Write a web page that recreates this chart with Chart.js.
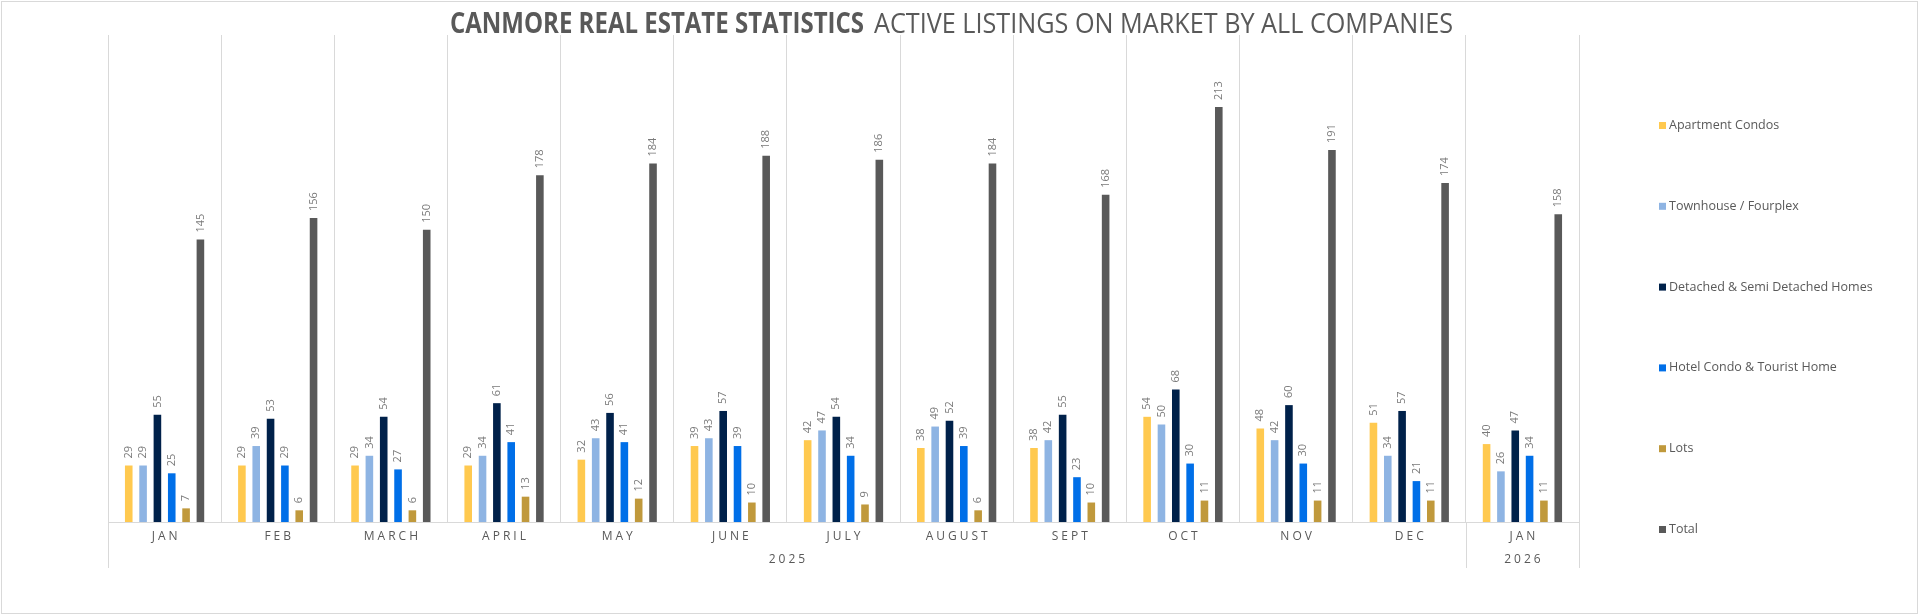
<!DOCTYPE html>
<html>
<head>
<meta charset="utf-8">
<title>Canmore Real Estate Statistics</title>
<script src="https://cdn.jsdelivr.net/npm/chart.js@4.4.1/dist/chart.umd.min.js"></script>
<style>
  html, body { margin: 0; padding: 0; background: #fff; }
  #wrap { width: 1920px; height: 616px; }
</style>
</head>
<body>
<div id="wrap"><canvas id="myChart" width="1920" height="616"></canvas></div>
<script>
// chart data
const months = ["JAN", "FEB", "MARCH", "APRIL", "MAY", "JUNE", "JULY", "AUGUST", "SEPT", "OCT", "NOV", "DEC", "JAN"];
const yearLabels = ["2025", "2026"];
const yearSpans = [12, 1];

const apartmentCondos = [29, 29, 29, 29, 32, 39, 42, 38, 38, 54, 48, 51, 40];
const townhouseFourplex = [29, 39, 34, 34, 43, 43, 47, 49, 42, 50, 42, 34, 26];
const detachedHomes = [55, 53, 54, 61, 56, 57, 54, 52, 55, 68, 60, 57, 47];
const hotelCondos = [25, 29, 27, 41, 41, 39, 34, 39, 23, 30, 30, 21, 34];
const lots = [7, 6, 6, 13, 12, 10, 9, 6, 10, 11, 11, 11, 11];
const totals = [145, 156, 150, 178, 184, 188, 186, 184, 168, 213, 191, 174, 158];

const textColor = "#595959";
const lineColor = "#d9d9d9";
const font = "'Open Sans', 'Noto Sans', sans-serif";

function makeSet(label, data, color) {
  return {
    label: label,
    data: data,
    backgroundColor: color,
    borderWidth: 0,
    categoryPercentage: 0.76,
    barPercentage: 0.53,
  };
}

const datasets = [
  makeSet("Apartment Condos", apartmentCondos, "#ffc94f"),
  makeSet("Townhouse / Fourplex", townhouseFourplex, "#8eb4e3"),
  makeSet("Detached & Semi Detached Homes", detachedHomes, "#00214a"),
  makeSet("Hotel Condo & Tourist Home", hotelCondos, "#006fe8"),
  makeSet("Lots", lots, "#c0993c"),
  makeSet("Total", totals, "#595959"),
];

// draw a text squeezed to a given width
function fitText(ctx, text, x, y, width) {
  const w = ctx.measureText(text).width;
  ctx.save();
  ctx.translate(x, y);
  ctx.scale(width / w, 1);
  ctx.fillText(text, 0, 0);
  ctx.restore();
}

const extras = {
  id: "extras",
  afterDatasetsDraw(chart) {
    const ctx = chart.ctx;
    // value labels above the bars, turned on their side
    ctx.save();
    ctx.fillStyle = "#7a7a7a";
    ctx.font = "11px " + font;
    ctx.textAlign = "left";
    ctx.textBaseline = "middle";
    chart.data.datasets.forEach((ds, i) => {
      chart.getDatasetMeta(i).data.forEach((bar, j) => {
        ctx.save();
        ctx.translate(bar.x, bar.y - 7);
        ctx.rotate(-Math.PI / 2);
        ctx.fillText(String(ds.data[j]), 0, 0);
        ctx.restore();
      });
    });
    ctx.restore();
  },
  afterDraw(chart) {
    const ctx = chart.ctx;
    const xScale = chart.scales.x;
    const area = chart.chartArea;

    // outer frame
    ctx.save();
    ctx.strokeStyle = lineColor;
    ctx.lineWidth = 1;
    ctx.strokeRect(1.5, 1.5, 1916, 612);

    // title
    ctx.fillStyle = textColor;
    ctx.textBaseline = "alphabetic";
    ctx.textAlign = "left";
    ctx.font = "bold 28px " + font;
    fitText(ctx, "CANMORE REAL ESTATE STATISTICS", 450, 33, 414);
    ctx.font = "28px " + font;
    fitText(ctx, "ACTIVE LISTINGS ON MARKET BY ALL COMPANIES", 874, 33, 579);

    // month labels
    ctx.font = "12px " + font;
    ctx.textAlign = "center";
    ctx.textBaseline = "middle";
    ctx.letterSpacing = "3px";
    months.forEach((m, j) => {
      ctx.fillText(m, xScale.getPixelForValue(j) + 1.5, 537);
    });

    // year groups and their separators
    ctx.strokeStyle = lineColor;
    let start = 0;
    const edge = (i) => {
      if (i <= 0) return xScale.left;
      if (i >= months.length) return xScale.right;
      return (xScale.getPixelForValue(i - 1) + xScale.getPixelForValue(i)) / 2;
    };
    yearLabels.forEach((y, k) => {
      const end = start + yearSpans[k];
      const x0 = edge(start);
      const x1 = edge(end);
      ctx.fillText(y, (x0 + x1) / 2 + 1.5, 560);
      [x0, x1].forEach((x) => {
        ctx.beginPath();
        ctx.moveTo(Math.round(x) + 0.5, area.bottom);
        ctx.lineTo(Math.round(x) + 0.5, 568);
        ctx.stroke();
      });
      start = end;
    });
    ctx.letterSpacing = "0px";

    // legend
    ctx.font = "12.5px " + font;
    ctx.textAlign = "left";
    chart.data.datasets.forEach((ds, i) => {
      const y = 125.5 + i * 80.8;
      ctx.fillStyle = ds.backgroundColor;
      ctx.fillRect(1659, y - 3.5, 7, 7);
      ctx.fillStyle = textColor;
      ctx.fillText(ds.label, 1669, y);
    });
    ctx.restore();
  },
};

function buildChart() {
  const ctx = document.getElementById("myChart");

  return new Chart(ctx, {
    type: "bar",
    data: {
      labels: months,
      datasets: datasets,
    },
    options: {
      responsive: false,
      animation: false,
      devicePixelRatio: 1,
      layout: {
        padding: { left: 108, right: 341, top: 35, bottom: 94 },
      },
      plugins: {
        legend: { display: false },
        title: { display: false },
        tooltip: { enabled: false },
      },
      scales: {
        x: {
          grid: {
            display: true,
            offset: true,
            color: lineColor,
            drawTicks: false,
          },
          border: { display: true, color: lineColor },
          ticks: { display: false },
        },
        y: {
          display: false,
          beginAtZero: true,
          min: 0,
          max: 250,
        },
      },
    },
    plugins: [extras],
  });
}

// make sure the fonts are ready before measuring the title
Promise.all([
  document.fonts.load("bold 28px 'Open Sans'"),
  document.fonts.load("28px 'Open Sans'"),
  document.fonts.load("12px 'Open Sans'"),
])
  .catch(() => {})
  .then(buildChart);
</script>
</body>
</html>
